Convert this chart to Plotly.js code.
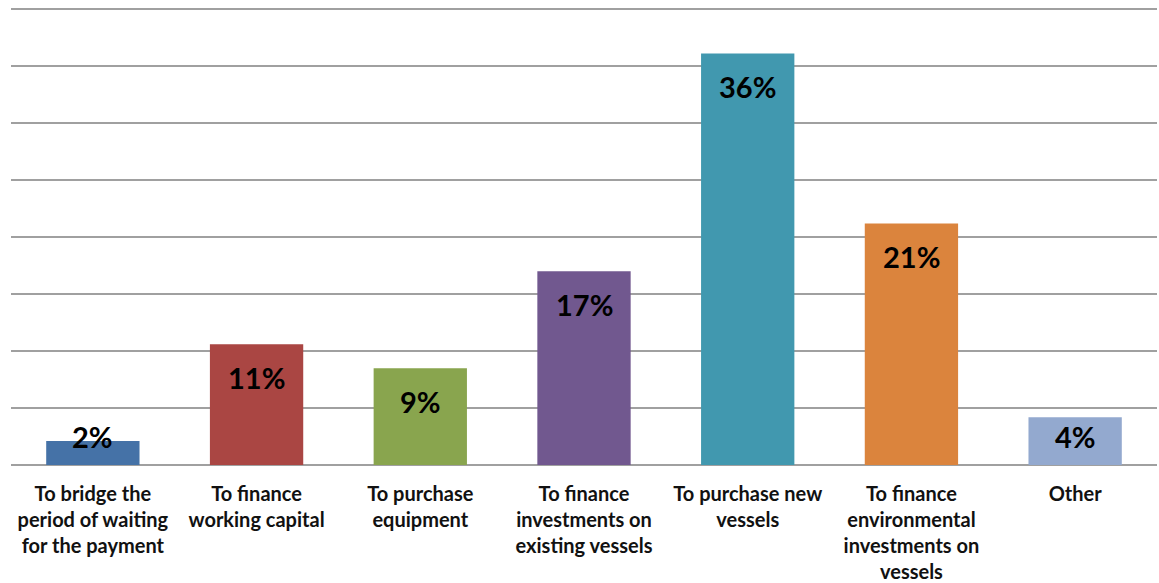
<!DOCTYPE html>
<html>
<head>
<meta charset="utf-8">
<script src="https://cdn.plot.ly/plotly-3.0.1.min.js"></script>
<style>html,body{margin:0;padding:0;background:#fff;}#chart{width:1159px;height:583px;}</style>
</head>
<body>
<div id="chart"></div>
<script>
const categories = [
  "To bridge the<br>period of waiting<br>for the payment",
  "To finance<br>working capital",
  "To purchase<br>equipment",
  "To finance<br>investments on<br>existing vessels",
  "To purchase new<br>vessels",
  "To finance<br>environmental<br>investments on<br>vessels",
  "Other"
];
const values = [2.1, 10.6, 8.5, 17.0, 36.1, 21.2, 4.2];
const valueLabels = ["2%", "11%", "9%", "17%", "36%", "21%", "4%"];
const barColors = ["#4572A7", "#AA4643", "#89A54E", "#71588F", "#4198AF", "#DB843D", "#93A9CF"];

const yMax = 40.1;
const plotTop = 8, plotBottom = 118;
const plotHeight = 583 - plotTop - plotBottom;
const pxPerUnit = plotHeight / yMax;
const labelOffset = 33;   // px from bar top to label centre
const labelFloor = 29;    // min px from baseline to label centre

const annotations = values.map((v, i) => {
  const barPx = v * pxPerUnit;
  const small = barPx - labelOffset < labelFloor;
  return {
    x: i, xref: 'x',
    y: small ? 0 : v, yref: 'y',
    yshift: small ? labelFloor : -labelOffset,
    yanchor: 'middle', xanchor: 'center',
    text: valueLabels[i], showarrow: false,
    font: {family: 'Lato, "Open Sans", sans-serif', size: 29, color: '#000', weight: 'bold'}
  };
});

const trace = {
  type: 'bar',
  x: categories.map((c, i) => i),
  y: values,
  marker: {color: barColors, line: {width: 0}},
  hoverinfo: 'none'
};

const layout = {
  width: 1159, height: 583,
  margin: {l: 11, r: 2, t: plotTop, b: plotBottom},
  paper_bgcolor: '#fff', plot_bgcolor: '#fff',
  bargap: 0.43,
  showlegend: false,
  font: {family: 'Lato, "Open Sans", sans-serif', color: '#111'},
  xaxis: {
    tickmode: 'array', tickvals: categories.map((c, i) => i), ticktext: categories,
    range: [-0.5, categories.length - 0.5],
    showgrid: false, zeroline: false, showline: false, ticks: '',
    tickfont: {size: 20, color: '#111', weight: 'bold', family: 'Lato, sans-serif'},
    ticklabelstandoff: 15
  },
  yaxis: {
    range: [0, yMax], dtick: 5, showticklabels: false,
    showgrid: true, gridcolor: '#a0a0a0', gridwidth: 1.3,
    zeroline: true, zerolinecolor: '#a0a0a0', zerolinewidth: 1.3,
    showline: false, ticks: ''
  },
  annotations: annotations
};

Plotly.newPlot('chart', [trace], layout, {displayModeBar: false, staticPlot: true});
</script>
</body>
</html>
